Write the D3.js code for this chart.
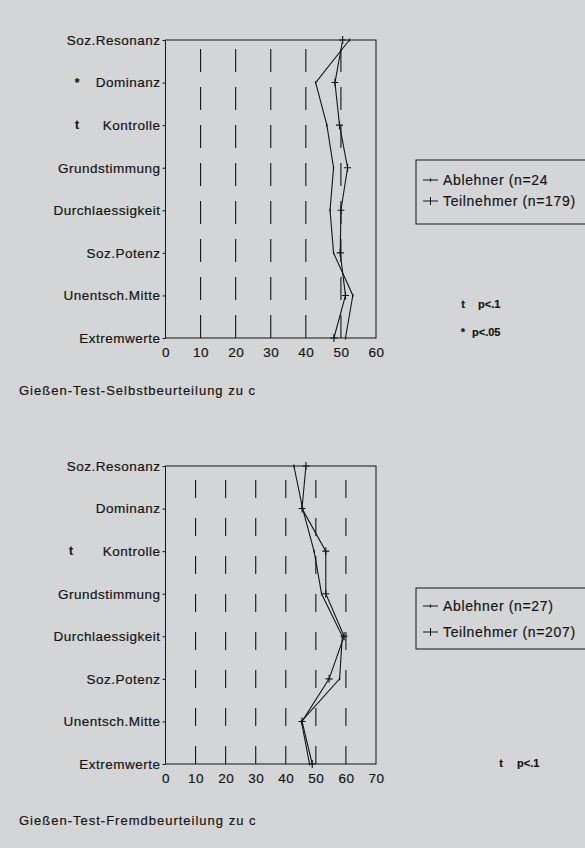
<!DOCTYPE html>
<html><head><meta charset="utf-8">
<script src="https://cdn.jsdelivr.net/npm/d3@7"></script>
<style>
html,body{margin:0;padding:0;background:#d4d5d7;}
svg{display:block;}
text{font-family:"Liberation Sans",Arial,Helvetica,sans-serif;fill:#151515;stroke:#151515;stroke-width:0.2px;}
</style></head><body>
<svg id="c" width="585" height="848"></svg>
<script>
const categories = ["Soz.Resonanz","Dominanz","Kontrolle","Grundstimmung","Durchlaessigkeit","Soz.Potenz","Unentsch.Mitte","Extremwerte"];

// Chart 1: Selbstbeurteilung
const selbstAblehner   = [52.4, 42.8, 46.0, 47.9, 46.9, 47.9, 53.4, 51.3];
const selbstTeilnehmer = [50.5, 48.3, 49.6, 51.9, 50.0, 49.8, 51.3, 48.0];
const selbstMarks = ["", "*", "t", "", "", "", "", ""];
const selbstTicks = [0, 10, 20, 30, 40, 50, 60];
const selbstLegend = ["Ablehner (n=24", "Teilnehmer (n=179)"];
const selbstNotes = [["t", "p<.1"], ["*", "p<.05"]];
const selbstTitle = "Gießen-Test-Selbstbeurteilung zu c";

// Chart 2: Fremdbeurteilung
const fremdAblehner   = [42.7, 45.6, 49.4, 51.9, 58.8, 57.9, 45.2, 47.9];
const fremdTeilnehmer = [46.7, 45.4, 53.3, 53.3, 59.4, 54.4, 45.4, 48.8];
const fremdMarks = ["", "", "t", "", "", "", "", ""];
const fremdTicks = [0, 10, 20, 30, 40, 50, 60, 70];
const fremdLegend = ["Ablehner (n=27)", "Teilnehmer (n=207)"];
const fremdNotes = [["t", "p<.1"]];
const fremdTitle = "Gießen-Test-Fremdbeurteilung zu c";

const svg = d3.select("#c");
const INK = "#151515";

function drawChart(cfg){
  const g = svg.append("g");
  const x = d3.scaleLinear().domain([cfg.ticks[0], cfg.ticks[cfg.ticks.length-1]]).range([165.5, 376]);
  const y = d3.scalePoint().domain(categories).range([cfg.top, cfg.bottom]);

  // dashed grid lines (drawn bottom to top)
  g.selectAll(".grid").data(cfg.ticks.slice(1, -1)).join("line")
    .attr("x1", d => x(d)).attr("x2", d => x(d))
    .attr("y1", cfg.bottom).attr("y2", cfg.top + 6)
    .attr("stroke", INK).attr("stroke-width", 1.1)
    .attr("stroke-dasharray", cfg.dash);

  // frame
  g.append("rect").attr("x", x.range()[0]).attr("y", cfg.top)
    .attr("width", x.range()[1]-x.range()[0]).attr("height", cfg.bottom-cfg.top)
    .attr("fill", "none").attr("stroke", INK).attr("stroke-width", 1);

  // y axis
  const ya = g.append("g").attr("transform", `translate(${x.range()[0]},0)`)
    .call(d3.axisLeft(y).tickSize(3).tickPadding(2));
  ya.select(".domain").remove();
  ya.selectAll("line").attr("stroke", INK);
  ya.selectAll("text").style("font-size", "13.5px").style("letter-spacing", "0.5px").attr("fill", INK);

  // significance marks
  g.selectAll(".mk").data(categories).join("text")
    .attr("x", cfg.markX).attr("y", d => y(d)).attr("dy", "0.35em")
    .attr("text-anchor", "middle").style("font-size", "12px").style("font-weight","bold")
    .text((d,i) => cfg.marks[i]);

  // x axis
  const xa = g.append("g").attr("transform", `translate(0,${cfg.bottom})`)
    .call(d3.axisBottom(x).tickValues(cfg.ticks).tickSize(0).tickPadding(9).tickFormat(d3.format("d")));
  xa.select(".domain").remove();
  xa.selectAll("text").style("font-size", "13.5px").style("letter-spacing","0.5px").attr("fill", INK);

  const line = d3.line().x(d => x(d.v)).y(d => y(d.c));
  const sA = categories.map((c,i) => ({c, v: cfg.abl[i]}));
  const sT = categories.map((c,i) => ({c, v: cfg.teil[i]}));

  g.append("path").datum(sA).attr("d", line).attr("fill","none").attr("stroke", INK).attr("stroke-width", 1.1);
  g.append("path").datum(sT).attr("d", line).attr("fill","none").attr("stroke", INK).attr("stroke-width", 1.1);

  // markers: small tick for Ablehner, plus for Teilnehmer
  g.selectAll(".ma").data(sA).join("path")
    .attr("d", d => `M${x(d.v)},${y(d.c)-1.5}V${y(d.c)+1.5}`)
    .attr("stroke", INK).attr("stroke-width", 1.2);
  g.selectAll(".mt").data(sT).join("path")
    .attr("d", d => `M${x(d.v)-3.5},${y(d.c)}H${x(d.v)+3.5}M${x(d.v)},${y(d.c)-4}V${y(d.c)+4}`)
    .attr("stroke", INK).attr("stroke-width", 1.1);

  // legend
  const lg = g.append("g");
  lg.append("rect").attr("x", 416).attr("y", cfg.legTop).attr("width", 200).attr("height", cfg.legH)
    .attr("fill","none").attr("stroke", INK).attr("stroke-width", 1);
  cfg.legend.forEach((t,i) => {
    const yy = cfg.legY[i];
    lg.append("path").attr("d", `M423,${yy}H438`).attr("stroke", INK).attr("stroke-width", 1);
    if(i===0) lg.append("path").attr("d", `M430.5,${yy-1.5}V${yy+1.5}`).attr("stroke", INK).attr("stroke-width", 1.2);
    else lg.append("path").attr("d", `M430.5,${yy-4}V${yy+4}`).attr("stroke", INK).attr("stroke-width", 1);
    lg.append("text").attr("x", 443).attr("y", yy).attr("dy","0.35em")
      .style("font-size","14px").style("letter-spacing","0.65px").text(t);
  });

  // notes
  cfg.notes.forEach((n,i) => {
    const ny = cfg.noteY[i];
    g.append("text").attr("x", cfg.noteX[i][0]).attr("y", ny).attr("dy","0.35em")
      .attr("text-anchor","middle").style("font-size","11px").style("font-weight","bold").text(n[0]);
    g.append("text").attr("x", cfg.noteX[i][1]).attr("y", ny).attr("dy","0.35em")
      .style("font-size","11px").style("font-weight","bold").text(n[1]);
  });

  // title
  g.append("text").attr("x", 19).attr("y", cfg.titleY).attr("dy","0.35em")
    .style("font-size","13px").style("letter-spacing","1px").text(cfg.title);
}

drawChart({
  ticks: selbstTicks, top: 40, bottom: 338, dash: "23,15",
  abl: selbstAblehner, teil: selbstTeilnehmer, marks: selbstMarks, markX: 77,
  legend: selbstLegend, legTop: 160, legH: 64, legY: [180, 201],
  notes: selbstNotes, noteY: [304, 332], noteX: [[463, 478], [463, 472]],
  title: selbstTitle, titleY: 390
});
drawChart({
  ticks: fremdTicks, top: 466, bottom: 764, dash: "18,20",
  abl: fremdAblehner, teil: fremdTeilnehmer, marks: fremdMarks, markX: 71,
  legend: fremdLegend, legTop: 588, legH: 61, legY: [606, 632],
  notes: fremdNotes, noteY: [763], noteX: [[501, 517]],
  title: fremdTitle, titleY: 820
});
</script>
</body></html>
